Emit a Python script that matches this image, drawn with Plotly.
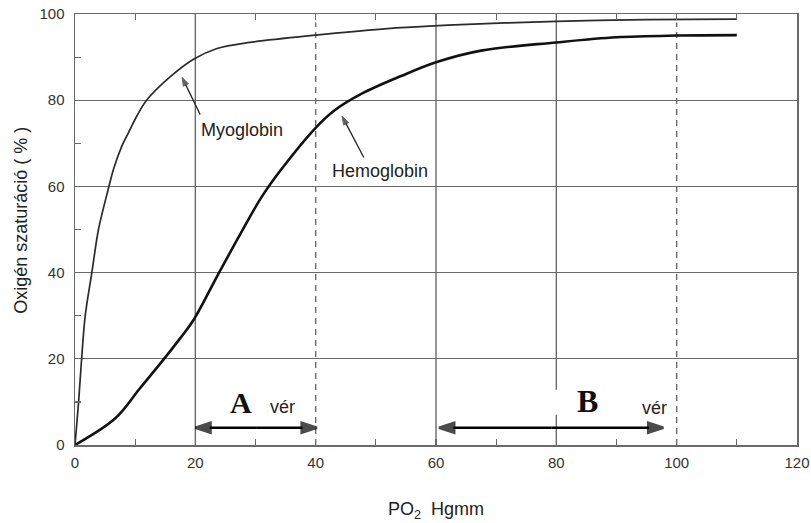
import plotly.graph_objects as go

# ---- data ----
myo_x = [0, 0.6, 1.1, 1.7, 2.8, 3.9, 5.55, 6.4, 7.8, 8.9, 10.3, 11.9, 15.8, 19.7, 23.6, 29.0, 40.0, 51.0, 62.0, 80.0, 95.0, 110.0]
myo_y = [0, 10, 20, 30, 40, 50, 59.5, 64.0, 69.4, 72.5, 76.4, 80.0, 85.4, 89.5, 92.0, 93.4, 95.1, 96.5, 97.4, 98.3, 98.7, 98.8]

hem_x = [0, 6.7, 10.7, 14.7, 17.5, 19.7, 23.9, 27.5, 31.0, 34.2, 40.0, 43.0, 47.5, 54.2, 60.0, 67.5, 80.0, 90.0, 100.0, 110.0]
hem_y = [0, 6.2, 13.0, 19.8, 24.8, 29.0, 39.9, 49.0, 57.5, 63.8, 73.6, 77.5, 81.4, 85.6, 88.8, 91.5, 93.4, 94.6, 95.0, 95.1]

solid_grid_x = [20, 60, 80]
dashed_grid_x = [40, 100]

range_A = [20, 40.2]
range_B = [60.5, 97.8]
range_arrow_y = 4.0

GRID = "#6a6a6a"
FONT = "Liberation Sans, Arial, sans-serif"
SERIF = "Liberation Serif, Times New Roman, serif"

fig = go.Figure()
fig.add_trace(go.Scatter(x=myo_x, y=myo_y, mode="lines", name="Myoglobin",
                         line=dict(color="#2b2b2b", width=1.7, shape="spline", smoothing=0.9),
                         showlegend=False, hoverinfo="skip"))
fig.add_trace(go.Scatter(x=hem_x, y=hem_y, mode="lines", name="Hemoglobin",
                         line=dict(color="#111111", width=2.6, shape="spline", smoothing=1.0),
                         showlegend=False, hoverinfo="skip"))


def arrow_trace(x0, y0, x1, y1, width, size, color, edge):
    """line from (x0,y0) to (x1,y1) with an arrow head at (x1,y1)"""
    return go.Scatter(x=[x0, x1], y=[y0, y1], mode="lines+markers",
                      line=dict(color=color, width=width),
                      marker=dict(symbol="arrow", size=[0, size], angleref="previous",
                                  color=color, line=dict(width=edge, color=color)),
                      showlegend=False, hoverinfo="skip")


# double-headed range arrows (two halves from the middle)
for rng in (range_A, range_B):
    mid = (rng[0] + rng[1]) / 2
    fig.add_trace(arrow_trace(mid, range_arrow_y, rng[1], range_arrow_y, 2.5, 16, "#000000", 2.5))
    fig.add_trace(arrow_trace(mid, range_arrow_y, rng[0], range_arrow_y, 2.5, 16, "#000000", 2.5))

# pointer arrows for the curve labels
fig.add_trace(arrow_trace(20.8, 76.7, 17.8, 85.3, 1.3, 9, "#222222", 1))
fig.add_trace(arrow_trace(48.0, 66.7, 44.4, 76.3, 1.3, 9, "#222222", 1))

# empty trace on the top axis so its (inside) ticks are drawn
fig.add_trace(go.Scatter(x=[], y=[], xaxis="x2", yaxis="y", showlegend=False, hoverinfo="skip"))

shapes = []
for gx in solid_grid_x:
    shapes.append(dict(type="line", xref="x", yref="y", x0=gx, x1=gx, y0=0, y1=100,
                       line=dict(color=GRID, width=1.4), layer="below"))
for gx in dashed_grid_x:
    shapes.append(dict(type="line", xref="x", yref="y", x0=gx, x1=gx, y0=0, y1=98,
                       line=dict(color=GRID, width=1.4, dash="6px,5px"), layer="below"))
# white box behind the "B" label
shapes.append(dict(type="rect", xref="x", yref="y", x0=79.2, x1=92, y0=7.0, y1=12.8,
                   fillcolor="white", line=dict(width=0), layer="below"))

annotations = []
annotations.append(dict(x=27.6, y=9.8, xref="x", yref="y", text="<b>A</b>", showarrow=False,
                        font=dict(family=SERIF, size=30, color="#111")))
annotations.append(dict(x=34.5, y=8.8, xref="x", yref="y", text="vér", showarrow=False,
                        font=dict(family=FONT, size=18, color="#222")))
annotations.append(dict(x=85.1, y=10.1, xref="x", yref="y", text="<b>B</b>", showarrow=False,
                        font=dict(family=SERIF, size=32, color="#111")))
annotations.append(dict(x=96.3, y=8.6, xref="x", yref="y", text="vér", showarrow=False,
                        font=dict(family=FONT, size=18, color="#222")))
annotations.append(dict(x=27.7, y=73.0, xref="x", yref="y", text="Myoglobin", showarrow=False,
                        font=dict(family=FONT, size=18, color="#222")))
annotations.append(dict(x=50.7, y=63.5, xref="x", yref="y", text="Hemoglobin", showarrow=False,
                        font=dict(family=FONT, size=18, color="#222")))
# axis titles
annotations.append(dict(x=-0.075, y=0.522, xref="paper", yref="paper", xanchor="center", yanchor="middle",
                        text="Oxigén szaturáció ( % )", textangle=-90, showarrow=False,
                        font=dict(family=FONT, size=18, color="#222")))
annotations.append(dict(x=0.5, y=-0.151, xref="paper", yref="paper", xanchor="center", yanchor="middle",
                        text="PO<sub>2</sub>  Hgmm", showarrow=False,
                        font=dict(family=FONT, size=18, color="#222")))

fig.update_layout(
    width=811, height=523,
    margin=dict(l=75, r=14, t=14, b=78, autoexpand=False),
    paper_bgcolor="white", plot_bgcolor="white",
    shapes=shapes, annotations=annotations,
    font=dict(family=FONT, size=15, color="#333"),
    xaxis2=dict(overlaying="x", side="top", range=[0, 120], tickmode="linear", tick0=0, dtick=20,
                ticks="inside", ticklen=6, tickcolor=GRID, tickwidth=1.2,
                minor=dict(ticks="inside", tick0=0, dtick=10, ticklen=6, tickcolor=GRID, tickwidth=1.2,
                           showgrid=False),
                showticklabels=False, showgrid=False, zeroline=False, showline=False,
                automargin=False, fixedrange=True),
)
fig.layout.xaxis.update(range=[0, 120], tickmode="linear", tick0=0, dtick=20,
                        showgrid=False, zeroline=False, showline=True, linecolor=GRID, linewidth=1.5,
                        mirror=True, ticks="inside", ticklen=6, tickcolor=GRID, tickwidth=1.2,
                        minor=dict(ticks="inside", tick0=0, dtick=10, ticklen=6, tickcolor=GRID, tickwidth=1.2,
                                   showgrid=False),
                        ticklabelstandoff=3, ticklabeloverflow="allow",
                        tickfont=dict(family=FONT, size=15, color="#333"),
                        automargin=False, fixedrange=True)
fig.layout.yaxis.update(range=[0, 100], tickmode="linear", tick0=0, dtick=20,
                        showgrid=True, gridcolor=GRID, gridwidth=1.4, zeroline=False,
                        showline=True, linecolor=GRID, linewidth=1.5, mirror=True,
                        ticks="inside", ticklen=6, tickcolor=GRID, tickwidth=1.2,
                        minor=dict(ticks="inside", tick0=0, dtick=10, ticklen=6, tickcolor=GRID, tickwidth=1.2,
                                   showgrid=False),
                        ticklabelstandoff=6, ticklabeloverflow="allow",
                        tickfont=dict(family=FONT, size=15, color="#333"),
                        automargin=False, fixedrange=True)

# remove the browser's default 8px page margin so the figure sits at the window origin
fig.write_html("out.html", config={"displayModeBar": False, "staticPlot": True},
               post_script="document.body.style.margin='0';")
